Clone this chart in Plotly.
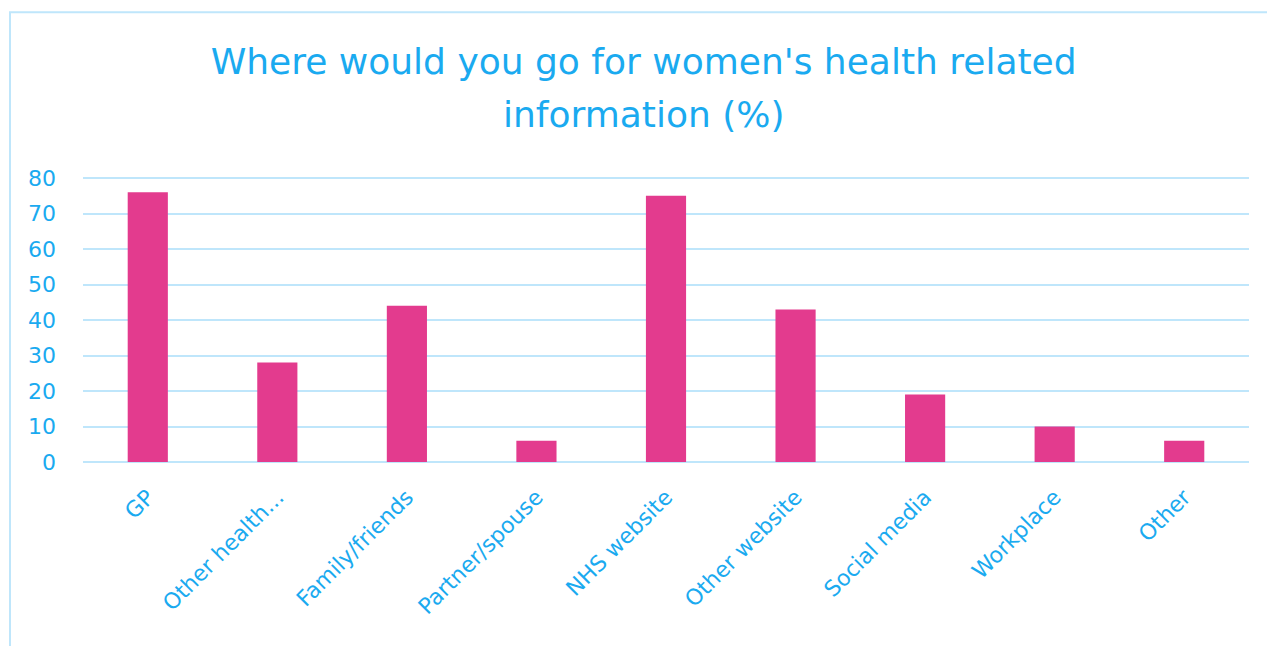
import plotly.graph_objects as go

categories = ["GP", "Other health...", "Family/friends", "Partner/spouse", "NHS website",
              "Other website", "Social media", "Workplace", "Other"]
percentages = [76, 28, 44, 6, 75, 43, 19, 10, 6]
y_ticks = [0, 10, 20, 30, 40, 50, 60, 70, 80]
title_lines = ["Where would you go for women's health related", "information (%)"]

TEXT_BLUE = "#1aaaf0"
GRID_BLUE = "#bfe6fb"
BAR_PINK = "#e33b8e"
FONT = "DejaVu Sans, sans-serif"

fig = go.Figure(
    go.Bar(
        x=categories,
        y=percentages,
        marker=dict(color=BAR_PINK, line=dict(width=0)),
        hoverinfo="x+y",
    )
)

fig.update_layout(
    width=1267,
    height=646,
    paper_bgcolor="white",
    plot_bgcolor="white",
    margin=dict(l=83, r=18, t=177, b=184),
    bargap=0.69,
    showlegend=False,
    font=dict(family=FONT, color=TEXT_BLUE),
    title=dict(
        text=title_lines[0],
        font=dict(family=FONT, size=36, color=TEXT_BLUE),
        x=0.508,
        xref="container",
        xanchor="center",
        y=1 - 49 / 646,
        yref="container",
        yanchor="top",
    ),
    annotations=[
        dict(
            text=title_lines[1],
            font=dict(family=FONT, size=36, color=TEXT_BLUE),
            xref="paper",
            yref="paper",
            x=(644 - 83) / 1166,
            y=1 + (177 - 92) / 285,
            xanchor="center",
            yanchor="top",
            showarrow=False,
        )
    ],
    xaxis=dict(
        tickangle=-45,
        tickfont=dict(size=22, color=TEXT_BLUE),
        showgrid=False,
        showline=False,
        zeroline=False,
        ticks="",
        ticklabelstandoff=17,
    ),
    yaxis=dict(
        range=[0, 80.3],
        tickvals=y_ticks,
        tickfont=dict(size=22, color=TEXT_BLUE),
        showgrid=True,
        gridcolor=GRID_BLUE,
        gridwidth=2,
        zeroline=True,
        zerolinecolor=GRID_BLUE,
        zerolinewidth=2,
        showline=False,
        ticks="",
        ticklabelstandoff=26,
    ),
    shapes=[
        dict(
            type="rect",
            xref="paper",
            yref="paper",
            x0=-0.0626,
            x1=1.1,
            y0=-1.0,
            y1=1.578,
            line=dict(color=GRID_BLUE, width=2),
            fillcolor="rgba(0,0,0,0)",
            layer="below",
        )
    ],
)

fig.write_html("out.html")
